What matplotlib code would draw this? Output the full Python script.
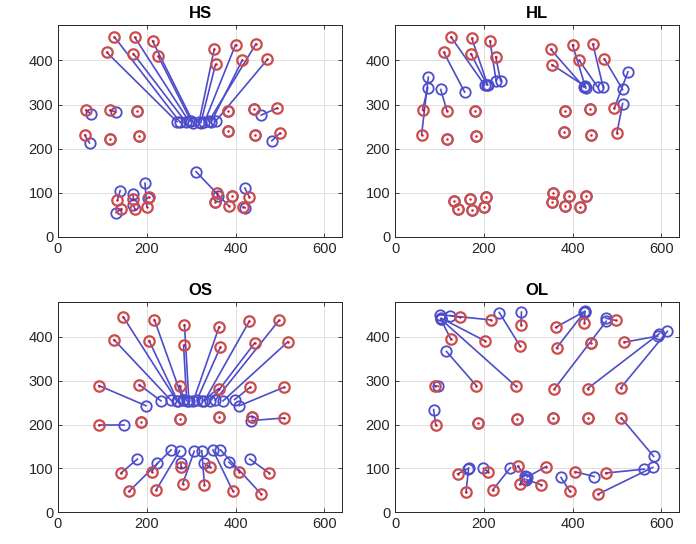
import matplotlib
matplotlib.use("Agg")
import matplotlib.pyplot as plt
import numpy as np

plt.rcParams['font.family'] = ['Liberation Sans', 'DejaVu Sans']

titles = ["HS", "HL", "OS", "OL"]
x_ticks = [0, 200, 400, 600]
y_ticks = [0, 100, 200, 300, 400]

# ---- HS ----
hs_gt_x = [127, 173, 213, 110, 170, 226, 352, 400, 446, 355, 415, 472,
           63, 117, 179, 60, 117, 183, 384, 441, 494, 382, 443, 500,
           134, 170, 204, 143, 173, 200, 358, 354, 385, 392, 431, 418]
hs_gt_y = [453, 452, 444, 418, 415, 409, 425, 435, 437, 391, 400, 402,
           287, 287, 285, 231, 222, 228, 286, 289, 292, 239, 231, 235,
           84, 86, 90, 64, 64, 69, 99, 80, 70, 93, 91, 68]
hs_pr_x = [275, 295, 305, 268, 288, 300, 318, 330, 340, 322, 345, 355,
           74, 131, 179, 71, 117, 183, 384, 441, 458, 382, 443, 482,
           140, 169, 202, 131, 170, 196, 360, 354, 311, 392, 421, 422]
hs_pr_y = [260, 262, 259, 261, 260, 262, 261, 260, 262, 259, 260, 262,
           279, 283, 285, 213, 222, 228, 286, 289, 276, 239, 231, 218,
           105, 97, 88, 55, 72, 122, 92, 80, 148, 93, 111, 66]

# ---- HL ----
hl_gt_x = [126, 173, 214, 110, 171, 227, 351, 400, 446, 354, 415, 472,
           62, 117, 180, 60, 117, 183, 384, 440, 494, 381, 442, 500,
           133, 170, 205, 143, 174, 201, 357, 353, 391, 384, 430, 418]
hl_gt_y = [453, 450, 444, 418, 415, 408, 425, 435, 437, 390, 400, 403,
           288, 286, 285, 232, 222, 228, 286, 289, 291, 238, 231, 235,
           82, 86, 90, 63, 61, 68, 100, 80, 93, 71, 92, 68]
hl_pr_x = [202, 209, 228, 157, 207, 238, 426, 430, 469, 429, 457, 513,
           74, 103, 180, 75, 117, 183, 384, 440, 525, 381, 442, 513,
           133, 170, 205, 143, 174, 201, 357, 353, 391, 384, 430, 418]
hl_pr_y = [344, 344, 353, 328, 345, 353, 339, 337, 339, 341, 339, 334,
           338, 334, 285, 362, 222, 228, 286, 289, 374, 238, 231, 302,
           82, 86, 90, 63, 61, 68, 100, 80, 93, 71, 92, 68]

# ---- OS ----
os_gt_x = [147, 217, 285, 126, 205, 283, 363, 431, 498, 366, 443, 518,
           92, 183, 274, 362, 433, 509, 92, 187, 276, 362, 437, 510,
           142, 211, 278, 343, 409, 476, 160, 221, 281, 330, 394, 458]
os_gt_y = [446, 440, 428, 394, 392, 381, 423, 436, 438, 377, 386, 389,
           289, 291, 289, 282, 285, 285, 199, 205, 212, 218, 217, 215,
           89, 92, 104, 102, 92, 89, 47, 50, 64, 62, 48, 41]
os_pr_x = [268, 282, 295, 255, 270, 290, 305, 330, 354, 313, 343, 372,
           198, 232, 285, 325, 398, 409, 149, 187, 276, 362, 437, 436,
           179, 224, 278, 330, 385, 432, 255, 274, 307, 324, 349, 366]
os_pr_y = [254, 255, 253, 255, 253, 254, 254, 254, 255, 256, 253, 254,
           243, 254, 256, 254, 257, 243, 199, 205, 212, 218, 217, 209,
           121, 111, 111, 111, 114, 121, 142, 140, 139, 140, 142, 142]

# ---- OL ----
ol_gt_x = [147, 216, 284, 362, 427, 497, 126, 203, 282, 364, 441, 516,
           90, 183, 272, 359, 434, 509, 92, 186, 276, 357, 435, 510,
           141, 210, 277, 341, 406, 475, 160, 220, 281, 330, 394, 458]
ol_gt_y = [445, 439, 427, 422, 433, 438, 395, 391, 379, 375, 386, 388,
           289, 289, 288, 281, 282, 284, 198, 204, 212, 216, 215, 215,
           87, 92, 105, 104, 92, 89, 45, 50, 63, 62, 47, 41]
ol_pr_x = [125, 102, 285, 428, 428, 475, 103, 104, 235, 427, 441, 592,
           98, 116, 103, 476, 596, 614, 87, 186, 276, 357, 435, 583,
           164, 199, 292, 298, 449, 562, 166, 260, 292, 296, 374, 581]
ol_pr_y = [449, 451, 457, 459, 457, 443, 441, 443, 456, 457, 386, 402,
           287, 367, 441, 436, 408, 413, 234, 204, 212, 216, 215, 127,
           99, 100, 83, 80, 81, 98, 101, 101, 76, 74, 79, 102]

panels = [
    (hs_gt_x, hs_gt_y, hs_pr_x, hs_pr_y),
    (hl_gt_x, hl_gt_y, hl_pr_x, hl_pr_y),
    (os_gt_x, os_gt_y, os_pr_x, os_pr_y),
    (ol_gt_x, ol_gt_y, ol_pr_x, ol_pr_y),
]

W, H = 696, 544
fig = plt.figure(figsize=(W / 100, H / 100), dpi=100)

# axes boxes in pixels: left, top, right, bottom
boxes = [(58, 25, 342, 237), (395, 25, 679, 237),
         (58, 302, 342, 512), (395, 302, 679, 512)]

RED = '#cc4c4c'
BLUE = '#4c4ccc'
AXC = '#262626'

for (l, t, r, b), title, (gx, gy, px, py) in zip(boxes, titles, panels):
    ax = fig.add_axes([l / W, 1 - b / H, (r - l) / W, (b - t) / H])
    gx = np.asarray(gx); gy = np.asarray(gy)
    px = np.asarray(px); py = np.asarray(py)
    for i in range(len(gx)):
        ax.plot([gx[i], px[i]], [gy[i], py[i]], color=BLUE, lw=1.2, zorder=2)
    ax.plot(px, py, 'o', mfc='none', mec=BLUE, ms=7.5, mew=1.3, zorder=3)
    ax.plot(gx, gy, 'o', mfc='none', mec=RED, ms=7.5, mew=1.6, zorder=4)
    ax.plot(gx, gy, '.', color='#ff0000', ms=1.5, zorder=5)
    ax.set_xlim(0, 640)
    ax.set_ylim(0, 480)
    ax.set_xticks(x_ticks)
    ax.set_yticks(y_ticks)
    ax.grid(True, color='#e0e0e0', lw=0.7)
    ax.set_axisbelow(True)
    ax.tick_params(direction='in', top=True, right=True, length=3,
                   width=0.6, colors=AXC, labelsize=10.5, labelcolor=AXC)
    for s in ax.spines.values():
        s.set_color(AXC)
        s.set_linewidth(0.7)
    ax.set_title(title, fontsize=12, fontweight='bold', color='black', pad=5)

fig.savefig("out.png", dpi=100)
